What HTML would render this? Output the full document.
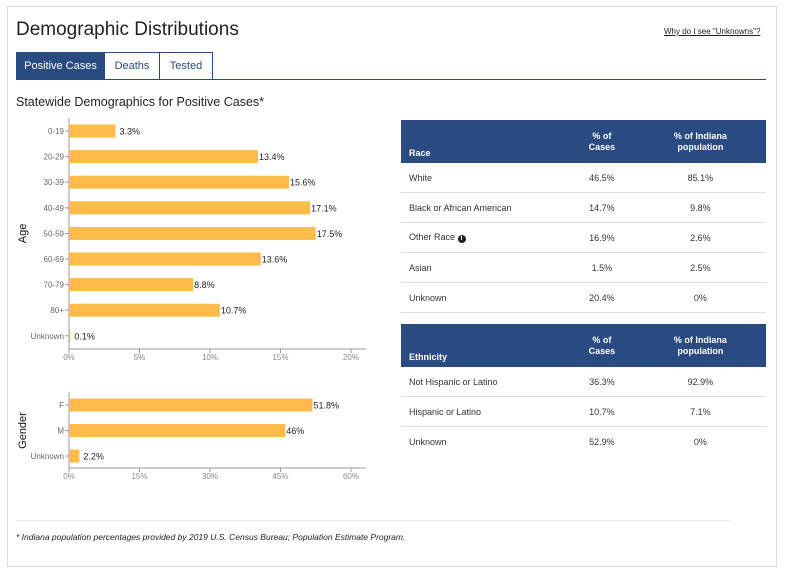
<!DOCTYPE html>
<html><head><meta charset="utf-8"><style>
body{margin:0;width:785px;height:572px;background:#fff;font-family:"Liberation Sans",sans-serif;position:relative;overflow:hidden}
.card{position:absolute;left:7px;top:6px;width:770px;height:561px;border:1px solid #ddd;box-sizing:border-box}
.abs{position:absolute}
.tab{position:absolute;top:52px;height:28px;box-sizing:border-box;border:1px solid #2a4a82;font-size:11px;line-height:26px;text-align:center;color:#2a4a82}
table{position:absolute;left:401px;width:365px;border-collapse:collapse;font-size:9px;color:#333}
th{background:#2a4a82;color:#fff;font-weight:bold;height:36px;line-height:11px;text-align:center;padding:3px 0 3px 0}
th:first-child{text-align:left;padding-left:8px;vertical-align:bottom;padding-bottom:4px}
td{height:29px;border-bottom:1px solid #ddd;text-align:center;padding:0}
td:first-child{text-align:left;padding-left:8px}
</style></head><body>
<div class="card"></div>
<div class="abs" style="left:16px;top:19px;font-size:19px;color:#222">Demographic Distributions</div>
<div class="abs" style="left:664px;top:27px;font-size:8px;color:#222;text-decoration:underline">Why do I see "Unknowns"?</div>
<div class="tab" style="left:16px;width:89px;background:#2a4a82;color:#fff">Positive Cases</div>
<div class="tab" style="left:104px;width:56px">Deaths</div>
<div class="tab" style="left:159px;width:54px">Tested</div>
<div class="abs" style="left:16px;top:79px;width:750px;height:1px;background:#2a4a82"></div>
<div class="abs" style="left:16px;top:95px;font-size:12.5px;color:#222">Statewide Demographics for Positive Cases*</div>
<svg class="abs" style="left:0;top:0" width="400" height="500" id="charts"></svg>
<table style="top:120px">
<tr><th style="width:160px">Race</th><th>% of<br>Cases</th><th>% of Indiana<br>population</th></tr>
<tr><td>White</td><td>46.5%</td><td>85.1%</td></tr>
<tr><td>Black or African American</td><td>14.7%</td><td>9.8%</td></tr>
<tr><td>Other Race <span style="display:inline-block;width:8px;height:8px;border-radius:50%;background:#222;color:#fff;font-size:7px;line-height:8px;text-align:center;font-weight:bold">i</span></td><td>16.9%</td><td>2.6%</td></tr>
<tr><td>Asian</td><td>1.5%</td><td>2.5%</td></tr>
<tr><td>Unknown</td><td>20.4%</td><td>0%</td></tr>
</table>
<table style="top:324px">
<tr><th style="width:160px">Ethnicity</th><th>% of<br>Cases</th><th>% of Indiana<br>population</th></tr>
<tr><td>Not Hispanic or Latino</td><td>36.3%</td><td>92.9%</td></tr>
<tr><td>Hispanic or Latino</td><td>10.7%</td><td>7.1%</td></tr>
<tr><td style="border:none">Unknown</td><td style="border:none">52.9%</td><td style="border:none">0%</td></tr>
</table>
<div class="abs" style="left:16px;top:520px;width:714px;height:1px;background:#e5e5e5"></div>
<div class="abs" style="left:16px;top:532px;font-size:8.5px;font-style:italic;color:#222">* Indiana population percentages provided by 2019 U.S. Census Bureau; Population Estimate Program.</div>
<script>
const ageCats=["0-19","20-29","30-39","40-49","50-59","60-69","70-79","80+","Unknown"];
const ageVals=[3.3,13.4,15.6,17.1,17.5,13.6,8.8,10.7,0.1];
const ageTicks=[0,5,10,15,20];
const genCats=["F","M","Unknown"];
const genVals=[51.8,46,2.2];
const genTicks=[0,15,30,45,60];
const NS="http://www.w3.org/2000/svg";
const svg=document.getElementById('charts');
function mk(t,a){const e=document.createElementNS(NS,t);for(const k in a)e.setAttribute(k,a[k]);svg.appendChild(e);return e;}
function chart(cats,vals,ticks,max,top,step,bottom,title,name){
  const x0=69,x1=351,x=v=>x0+(x1-x0)*v/max,y=i=>top+step*i;
  let l=mk('line',{x1:x0,x2:x0,y1:top-13,y2:bottom,stroke:'#999'});
  
  l=mk('line',{x1:x0,x2:366,y1:bottom,y2:bottom,stroke:'#999'});
  
  cats.forEach((c,i)=>{
    const cy=y(i);
    mk('line',{x1:x0-4,x2:x0,y1:cy,y2:cy,stroke:'#999'});
    let t=mk('text',{x:x0-5,y:cy+3,'text-anchor':'end','font-size':8,fill:'#666'});t.textContent=c;
    
    const r=mk('rect',{x:x0,y:cy-6.5,width:Math.max(1,x(vals[i])-x0),height:13,fill:'#fdbb4a'});
    
    t=mk('text',{x:x(vals[i])+(vals[i]<5?4:1),y:cy+3.5,'font-size':9,fill:'#222'});t.textContent=vals[i]+'%';
    
  });
  ticks.forEach(v=>{
    mk('line',{x1:x(v),x2:x(v),y1:bottom,y2:bottom+4,stroke:'#999'});
    const t=mk('text',{x:x(v),y:bottom+11,'text-anchor':'middle','font-size':8,fill:'#888'});t.textContent=v+'%';
    
  });
  const my=(top+y(cats.length-1))/2;
  const t=mk('text',{x:26,y:my,transform:`rotate(-90 26 ${my})`,'text-anchor':'middle','font-size':11,fill:'#111'});t.textContent=title;
  
}
chart(ageCats,ageVals,ageTicks,20,131,25.6,349,'Age','age');
chart(genCats,genVals,genTicks,60,405,25.5,468,'Gender','gender');
</script>
</body></html>
